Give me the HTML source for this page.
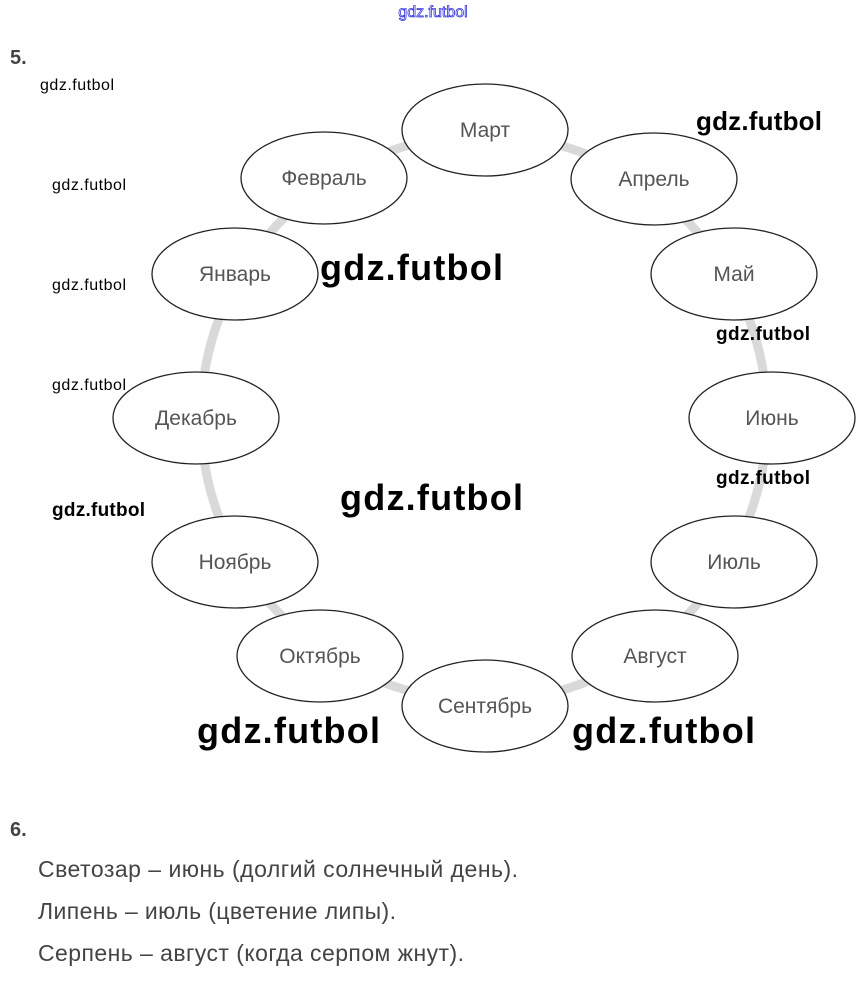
<!DOCTYPE html>
<html><head><meta charset="utf-8"><style>
body{margin:0;background:#fff;width:866px;height:977px;overflow:hidden;font-family:"Liberation Sans",sans-serif}
</style></head><body>
<svg width="866" height="977" xmlns="http://www.w3.org/2000/svg" font-family="Liberation Sans, sans-serif">
<text x="433" y="17" font-size="16" fill="#fff" stroke="#3333dd" stroke-width="0.8" text-anchor="middle">gdz.futbol</text>
<text x="10" y="64" font-size="20" font-weight="bold" fill="#444">5.</text>
<circle cx="484" cy="418" r="283" fill="none" stroke="#d9d9d9" stroke-width="9"/>
<g fill="#fff" stroke="#222" stroke-width="1.3">
<ellipse cx="485" cy="130" rx="83" ry="46"/>
<ellipse cx="654" cy="179" rx="83" ry="46"/>
<ellipse cx="734" cy="274" rx="83" ry="46"/>
<ellipse cx="772" cy="418" rx="83" ry="46"/>
<ellipse cx="734" cy="562" rx="83" ry="46"/>
<ellipse cx="655" cy="656" rx="83" ry="46"/>
<ellipse cx="485" cy="706" rx="83" ry="46"/>
<ellipse cx="320" cy="656" rx="83" ry="46"/>
<ellipse cx="235" cy="562" rx="83" ry="46"/>
<ellipse cx="196" cy="418" rx="83" ry="46"/>
<ellipse cx="235" cy="274" rx="83" ry="46"/>
<ellipse cx="324" cy="178" rx="83" ry="46"/>
</g>
<g font-size="21" fill="#555" text-anchor="middle">
<text x="485" y="137">Март</text>
<text x="654" y="186">Апрель</text>
<text x="734" y="281">Май</text>
<text x="772" y="425">Июнь</text>
<text x="734" y="569">Июль</text>
<text x="655" y="663">Август</text>
<text x="485" y="713">Сентябрь</text>
<text x="320" y="663">Октябрь</text>
<text x="235" y="569">Ноябрь</text>
<text x="196" y="425">Декабрь</text>
<text x="235" y="281">Январь</text>
<text x="324" y="185">Февраль</text>
</g>
<g fill="#000">
<text x="40" y="90" font-size="16" textLength="74">gdz.futbol</text>
<text x="52" y="190" font-size="16" textLength="74">gdz.futbol</text>
<text x="52" y="290" font-size="16" textLength="74">gdz.futbol</text>
<text x="52" y="390" font-size="16" textLength="74">gdz.futbol</text>
<text x="52" y="516" font-size="19" font-weight="bold" textLength="93">gdz.futbol</text>
<text x="716" y="340" font-size="19" font-weight="bold" textLength="94">gdz.futbol</text>
<text x="716" y="484" font-size="19" font-weight="bold" textLength="94">gdz.futbol</text>
<text x="696" y="130" font-size="26" font-weight="bold" textLength="126">gdz.futbol</text>
<text x="320" y="280" font-size="36" font-weight="bold" textLength="183">gdz.futbol</text>
<text x="340" y="510" font-size="36" font-weight="bold" textLength="183">gdz.futbol</text>
<text x="197" y="743" font-size="36" font-weight="bold" textLength="183">gdz.futbol</text>
<text x="572" y="743" font-size="36" font-weight="bold" textLength="183">gdz.futbol</text>
</g>
<text x="10" y="836" font-size="20" font-weight="bold" fill="#444">6.</text>
<g font-size="23" fill="#444">
<text x="38" y="877" textLength="480">Светозар – июнь (долгий солнечный день).</text>
<text x="38" y="919" textLength="358">Липень – июль (цветение липы).</text>
<text x="38" y="961" textLength="426">Серпень – август (когда серпом жнут).</text>
</g>
</svg>
</body></html>
